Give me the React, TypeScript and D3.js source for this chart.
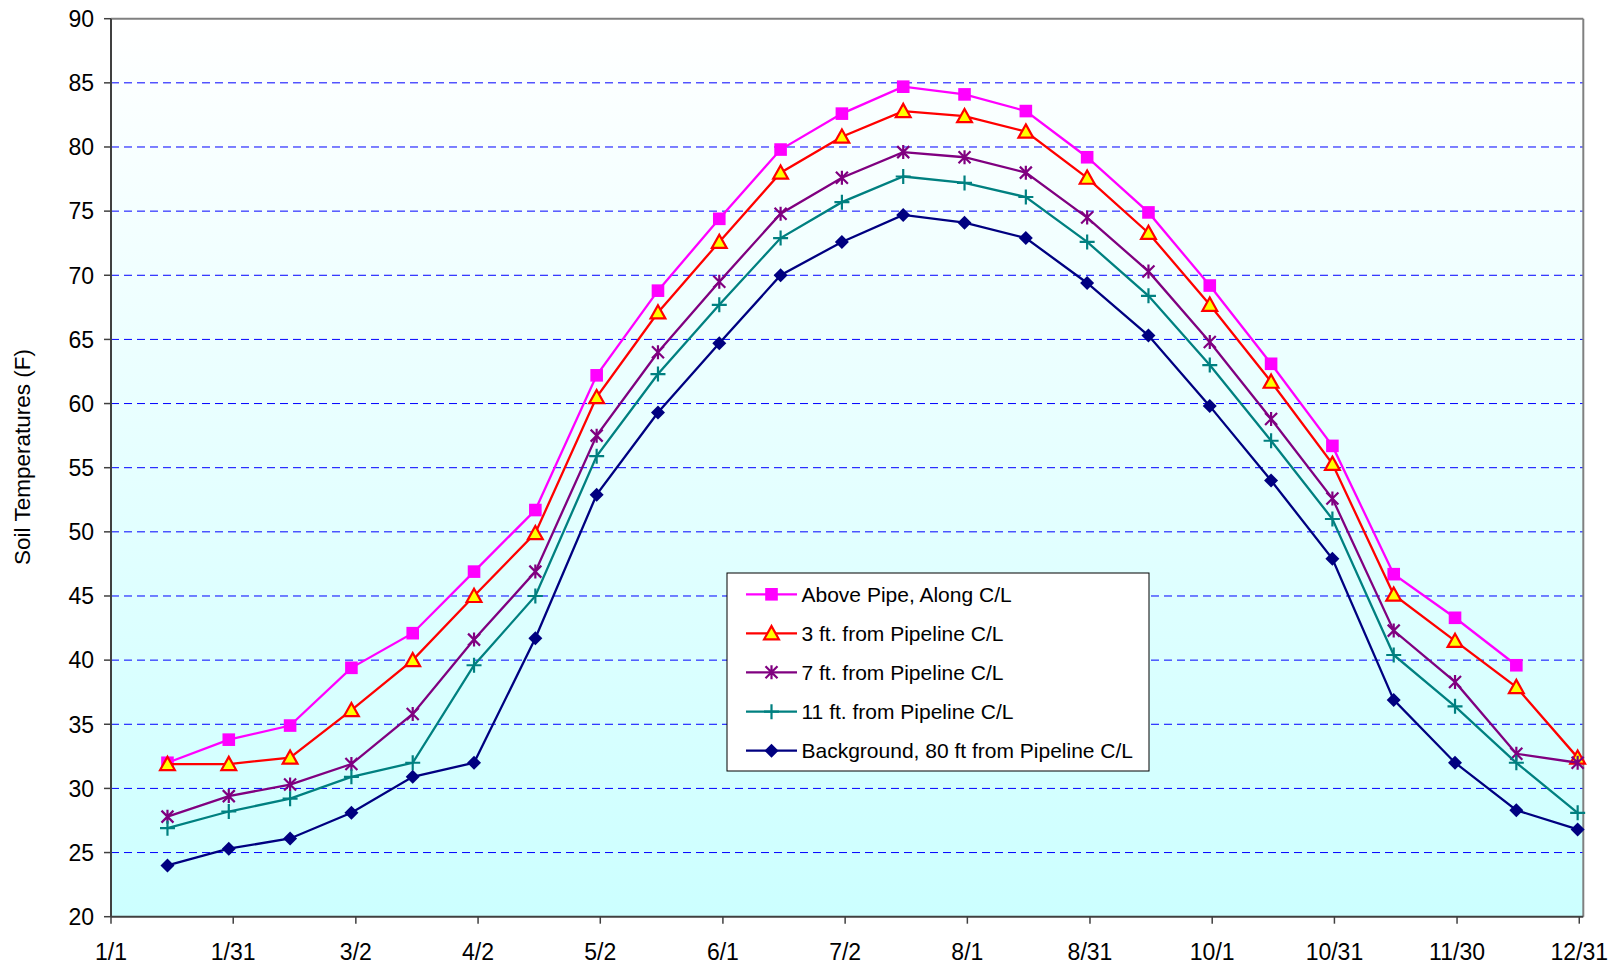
import React from "react";
import * as d3 from "d3";

// ---- data ----
const dayOfYear = [14, 29.2, 44.4, 59.6, 74.8, 90, 105.2, 120.4, 135.6, 150.8, 166, 181.2, 196.4, 211.6, 226.8, 242, 257.2, 272.4, 287.6, 302.8, 318, 333.2, 348.4, 363.6];

const abovePipe = [32.0, 33.8, 34.9, 39.4, 42.1, 46.9, 51.7, 62.2, 68.8, 74.4, 79.8, 82.6, 84.7, 84.1, 82.8, 79.2, 74.9, 69.2, 63.1, 56.7, 46.7, 43.3, 39.6, null];
const ft3 = [31.9, 31.9, 32.4, 36.1, 40.0, 45.0, 49.9, 60.5, 67.1, 72.6, 78.0, 80.8, 82.8, 82.4, 81.2, 77.6, 73.3, 67.7, 61.7, 55.3, 45.1, 41.5, 37.9, 32.4];
const ft7 = [27.8, 29.4, 30.3, 31.9, 35.8, 41.6, 46.9, 57.5, 64.0, 69.5, 74.8, 77.6, 79.6, 79.2, 78.0, 74.5, 70.3, 64.8, 58.8, 52.6, 42.3, 38.3, 32.7, 32.0];
const ft11 = [26.9, 28.2, 29.2, 30.9, 32.0, 39.6, 45.0, 55.9, 62.3, 67.7, 72.9, 75.7, 77.7, 77.2, 76.1, 72.6, 68.4, 63.0, 57.1, 51.0, 40.4, 36.4, 32.0, 28.1];
const background = [24.0, 25.3, 26.1, 28.1, 30.9, 32.0, 41.7, 52.9, 59.3, 64.7, 70.0, 72.6, 74.7, 74.1, 72.9, 69.4, 65.3, 59.8, 54.0, 47.9, 36.9, 32.0, 28.3, 26.8];

const seriesNames = [
  "Above Pipe, Along C/L",
  "3 ft. from Pipeline C/L",
  "7 ft. from Pipeline C/L",
  "11 ft. from Pipeline C/L",
  "Background, 80 ft from Pipeline C/L",
];

const xTickDays = [0, 30.3, 60.7, 91, 121.3, 151.7, 182, 212.3, 242.7, 273, 303.3, 333.7, 364];
const xTickLabels = ["1/1", "1/31", "3/2", "4/2", "5/2", "6/1", "7/2", "8/1", "8/31", "10/1", "10/31", "11/30", "12/31"];
const yTicks = [20, 25, 30, 35, 40, 45, 50, 55, 60, 65, 70, 75, 80, 85, 90];

// ---- layout ----
const W = 1614;
const H = 966;
const plot = { left: 111, top: 18.7, right: 1583.3, bottom: 916.7 };
const FONT = "Arial, 'Liberation Sans', sans-serif";

const x = d3.scaleLinear().domain([0, 365]).range([plot.left, plot.right]);
const y = d3.scaleLinear().domain([20, 90]).range([plot.bottom, plot.top]);

type MarkerKind = "square" | "triangle" | "asterisk" | "plus" | "diamond";

const styles: { color: string; marker: MarkerKind }[] = [
  { color: "#FF00FF", marker: "square" },
  { color: "#FF0000", marker: "triangle" },
  { color: "#800080", marker: "asterisk" },
  { color: "#008080", marker: "plus" },
  { color: "#000080", marker: "diamond" },
];

const allSeries = [abovePipe, ft3, ft7, ft11, background];

function Marker({ kind, color, cx, cy }: { kind: MarkerKind; color: string; cx: number; cy: number }) {
  const t = `translate(${cx},${cy})`;
  switch (kind) {
    case "square":
      return <rect transform={t} x={-6.3} y={-6.3} width={12.6} height={12.6} fill={color} />;
    case "triangle":
      return (
        <path
          transform={t}
          d="M0,-7.2 L7.4,6 L-7.4,6 Z"
          fill="#FFFF00"
          stroke={color}
          strokeWidth={2.2}
          strokeLinejoin="miter"
        />
      );
    case "asterisk":
      return (
        <path
          transform={t}
          d="M0,-7 L0,7 M-6,-6 L6,6 M-6,6 L6,-6"
          stroke={color}
          strokeWidth={2.2}
          fill="none"
        />
      );
    case "plus":
      return <path transform={t} d="M0,-7.5 L0,7.5 M-7.5,0 L7.5,0" stroke={color} strokeWidth={2.2} fill="none" />;
    case "diamond":
      return <path transform={t} d="M0,-7 L7,0 L0,7 L-7,0 Z" fill={color} />;
  }
}

export default function App() {
  const line = d3
    .line<[number, number | null]>()
    .defined((d) => d[1] !== null)
    .x((d) => x(d[0]))
    .y((d) => y(d[1] as number));

  const legend = { x: 727, y: 573, w: 422, h: 198 };
  const rowY = [594.3, 633.3, 672.3, 711.7, 750.7];

  return (
    <svg
      width={W}
      height={H}
      style={{ position: "absolute", left: 0, top: 0, display: "block", background: "#fff" }}
      fontFamily={FONT}
    >
      <defs>
        <linearGradient id="bg" x1="0" y1="0" x2="0" y2="1">
          <stop offset="0" stopColor="#FFFFFF" />
          <stop offset="1" stopColor="#CCFFFF" />
        </linearGradient>
        <clipPath id="clip">
          <rect x={plot.left} y={plot.top - 10} width={plot.right - plot.left + 10} height={plot.bottom - plot.top + 20} />
        </clipPath>
      </defs>

      <rect
        x={plot.left}
        y={plot.top}
        width={plot.right - plot.left}
        height={plot.bottom - plot.top}
        fill="url(#bg)"
      />

      {/* gridlines */}
      {yTicks
        .filter((v) => v !== 20 && v !== 90)
        .map((v) => (
          <line
            key={"g" + v}
            x1={plot.left}
            x2={plot.right}
            y1={y(v)}
            y2={y(v)}
            stroke="#0000FF"
            strokeWidth={1}
            strokeDasharray="8,5"
          />
        ))}

      {/* plot border */}
      <line x1={plot.left} x2={plot.right} y1={plot.top} y2={plot.top} stroke="#808080" strokeWidth={2} />
      <line x1={plot.right} x2={plot.right} y1={plot.top} y2={plot.bottom} stroke="#808080" strokeWidth={2} />

      {/* axes */}
      <line x1={plot.left} x2={plot.left} y1={plot.top} y2={plot.bottom} stroke="#404040" strokeWidth={2} />
      <line x1={plot.left} x2={plot.right} y1={plot.bottom} y2={plot.bottom} stroke="#404040" strokeWidth={2} />

      {yTicks.map((v) => (
        <g key={"yt" + v}>
          <line x1={plot.left - 7} x2={plot.left} y1={y(v)} y2={y(v)} stroke="#404040" strokeWidth={1.5} />
          <text x={94} y={y(v)} dy="0.36em" textAnchor="end" fontSize={23} fill="#000">
            {v}
          </text>
        </g>
      ))}

      {xTickDays.map((d, i) => (
        <g key={"xt" + i}>
          <line x1={x(d)} x2={x(d)} y1={plot.bottom} y2={plot.bottom + 7} stroke="#404040" strokeWidth={1.5} />
          <text x={x(d)} y={959.5} textAnchor="middle" fontSize={23} fill="#000">
            {xTickLabels[i]}
          </text>
        </g>
      ))}

      <text
        transform={`translate(30,457) rotate(-90)`}
        textAnchor="middle"
        fontSize={22.5}
        fill="#000"
      >
        Soil Temperatures (F)
      </text>

      {/* series */}
      <g clipPath="url(#clip)">
        {allSeries.map((vals, si) => {
          const pts: [number, number | null][] = dayOfYear.map((d, i) => [d, vals[i]]);
          return (
            <g key={"s" + si}>
              <path d={line(pts) || ""} fill="none" stroke={styles[si].color} strokeWidth={2.3} />
              {pts
                .filter((p) => p[1] !== null)
                .map((p, i) => (
                  <Marker key={i} kind={styles[si].marker} color={styles[si].color} cx={x(p[0])} cy={y(p[1] as number)} />
                ))}
            </g>
          );
        })}
      </g>

      {/* legend */}
      <rect x={legend.x} y={legend.y} width={legend.w} height={legend.h} fill="#FFFFFF" stroke="#000" strokeWidth={1} />
      {seriesNames.map((name, i) => (
        <g key={"l" + i}>
          <line x1={746} x2={797} y1={rowY[i]} y2={rowY[i]} stroke={styles[i].color} strokeWidth={2.3} />
          <Marker kind={styles[i].marker} color={styles[i].color} cx={771.5} cy={rowY[i]} />
          <text x={801.5} y={rowY[i]} dy="0.36em" fontSize={21} fill="#000">
            {name}
          </text>
        </g>
      ))}
    </svg>
  );
}
